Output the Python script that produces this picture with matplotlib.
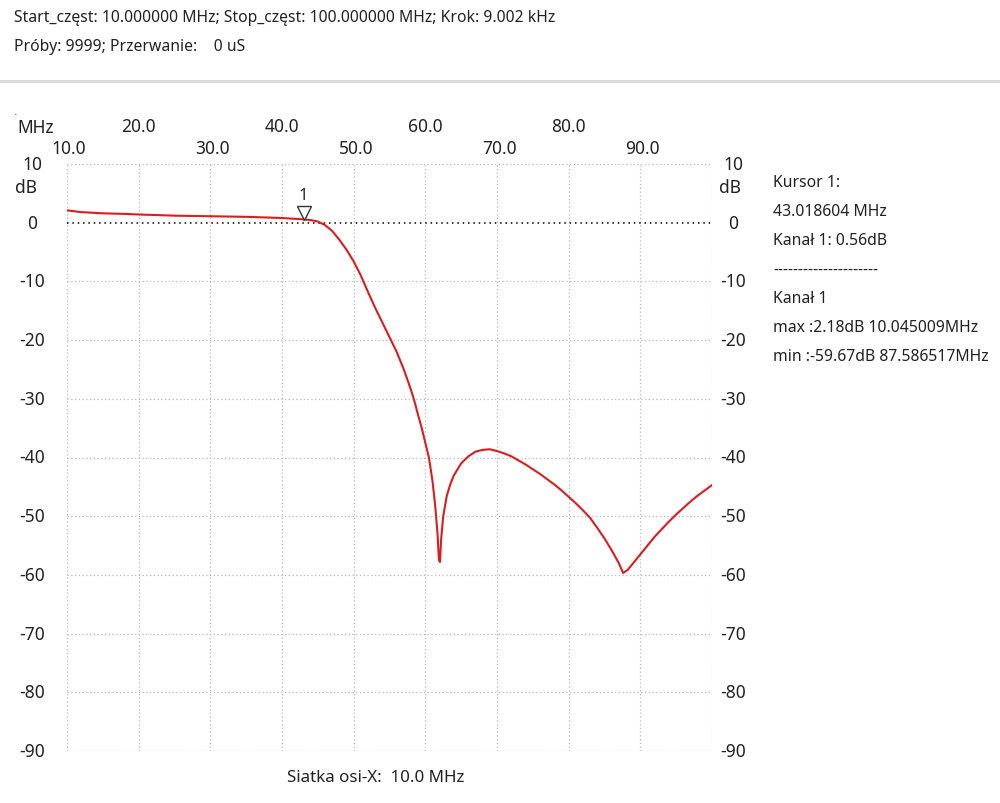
import matplotlib
matplotlib.use("Agg")
import matplotlib.pyplot as plt
import matplotlib.transforms as mtransforms
from matplotlib.lines import Line2D

# trace (MHz, dB)
freq_mhz = [10.0, 12.0, 15.0, 18.0, 20.0, 25.0, 30.0, 35.0, 40.0, 43.02,
            44.0, 45.0, 46.0, 47.0, 48.0, 49.0, 50.0, 51.0, 52.0, 53.0,
            54.0, 55.0, 56.0, 57.0, 58.0, 58.5, 59.0, 59.5, 60.0, 60.5,
            61.0, 61.4, 61.7, 61.9, 62.05, 62.2, 62.5, 63.0, 63.5, 64.0,
            65.0, 66.0, 67.0, 68.0, 69.0, 70.0, 71.0, 72.0, 73.0, 74.0,
            75.0, 76.0, 77.0, 78.0, 79.0, 80.0, 81.0, 82.0, 83.0, 84.0,
            85.0, 86.0, 87.0, 87.59, 88.2, 89.0, 90.0, 91.0, 92.0, 93.0,
            94.0, 95.0, 96.0, 97.0, 98.0, 99.0, 100.0]
gain_db = [2.1, 1.8, 1.6, 1.5, 1.4, 1.2, 1.1, 1.0, 0.8, 0.56,
           0.45, 0.2, -0.4, -1.4, -2.9, -4.6, -6.6, -9.0, -11.8, -14.5,
           -17.0, -19.5, -22.0, -25.0, -28.5, -30.5, -32.8, -35.0, -37.5, -40.0,
           -44.0, -48.5, -53.0, -57.5, -57.8, -54.0, -50.0, -46.5, -44.5, -43.0,
           -41.0, -39.8, -39.0, -38.7, -38.6, -38.9, -39.3, -39.8, -40.5, -41.2,
           -42.0, -42.8, -43.7, -44.6, -45.6, -46.7, -47.8, -49.0, -50.3, -52.0,
           -53.8, -55.8, -58.0, -59.67, -59.2, -58.0, -56.5, -55.0, -53.5, -52.2,
           -50.9, -49.7, -48.6, -47.5, -46.5, -45.6, -44.7]

cursor_freq = 43.018604
cursor_db = 0.56

x_upper = [20, 40, 60, 80]
x_lower = [10, 30, 50, 70, 90]
x_grid = list(range(10, 101, 10))
y_ticks = list(range(10, -91, -10))

header_lines = [
    "Start_częst: 10.000000 MHz; Stop_częst: 100.000000 MHz; Krok: 9.002 kHz",
    "Próby: 9999; Przerwanie:    0 uS",
]
info_lines = [
    "Kursor 1:",
    "43.018604 MHz",
    "Kanał 1: 0.56dB",
    "---------------------",
    "Kanał 1",
    "max :2.18dB 10.045009MHz",
    "min :-59.67dB 87.586517MHz",
]

W, H = 1000, 804
fig = plt.figure(figsize=(W / 100, H / 100), dpi=100)
fig.patch.set_facecolor("white")

left, right, top, bottom = 67, 712, 165, 752
ax = fig.add_axes([left / W, 1 - bottom / H, (right - left) / W, (bottom - top) / H])
ax.set_xlim(10, 100)
ax.set_ylim(-90, 10)
for s in ax.spines.values():
    s.set_visible(False)
ax.set_xticks([])
ax.set_yticks([])

grid_kw = dict(color="#b8b8b8", lw=0.9, linestyle=(0, (1, 2)), zorder=1)
for x in x_grid:
    ax.axvline(x, **grid_kw)
for y in y_ticks:
    if y == 0:
        ax.axhline(0, color="black", lw=1.1, linestyle=(0, (1, 2.5)), zorder=1)
    else:
        ax.axhline(y, **grid_kw)

ax.plot(freq_mhz, gain_db, color="#d81e1e", lw=1.5, zorder=3)

# cursor marker
mk_tr = mtransforms.offset_copy(ax.transData, fig=fig, x=0, y=6, units="dots")
ax.plot([cursor_freq], [cursor_db], marker="v", ms=10, mfc="white",
        mec="#333333", mew=1.0, transform=mk_tr, zorder=4)
ax.annotate("1", (cursor_freq, cursor_db), xytext=(0, 12), textcoords="offset points",
            ha="center", va="bottom", fontsize=12, color="#222222", family="Noto Sans")

axfont = dict(family="Noto Sans", fontsize=12.5, color="#222222")
ytr = mtransforms.blended_transform_factory(fig.transFigure, ax.transData)
for y in y_ticks:
    ax.text(32 / W, y, str(y), transform=ytr, ha="center", va="center", **axfont)
    ax.text(733 / W, y, str(y), transform=ytr, ha="center", va="center", **axfont)
ax.text(26 / W, 6, "dB", transform=ytr, ha="center", va="center", **axfont)
ax.text(730 / W, 6, "dB", transform=ytr, ha="center", va="center", **axfont)

xtr = mtransforms.blended_transform_factory(ax.transData, fig.transFigure)
for x in x_upper:
    ax.text(x, 1 - 127.5 / H, f"{x:.1f}", transform=xtr, ha="center", va="center", **axfont)
for x in x_lower:
    ax.text(x + 0.3, 1 - 149 / H, f"{x:.1f}", transform=xtr, ha="center", va="center", **axfont)
fig.text(17 / W, 1 - 128 / H, "MHz", ha="left", va="center", **axfont)
fig.text(14 / W, 1 - 112 / H, ".", ha="left", va="center", fontsize=8, color="#222222")

txt = dict(family="Noto Sans", fontsize=11.3, color="#222222")
fig.text(14 / W, 1 - 18 / H, header_lines[0], ha="left", va="center", **txt)
fig.text(14 / W, 1 - 47 / H, header_lines[1], ha="left", va="center", **txt)
fig.add_artist(Line2D([0, 1], [1 - 82 / H, 1 - 82 / H], transform=fig.transFigure,
                      color="#d8d8d8", lw=2))

for i, line in enumerate(info_lines):
    fig.text(773 / W, 1 - (183 + 29 * i) / H, line, ha="left", va="center", **txt)

fig.text(376 / W, 1 - 778 / H, "Siatka osi-X:  10.0 MHz", ha="center", va="center",
         family="Noto Sans", fontsize=12.2, color="#222222")

fig.savefig("out.png", dpi=100, facecolor="white")
